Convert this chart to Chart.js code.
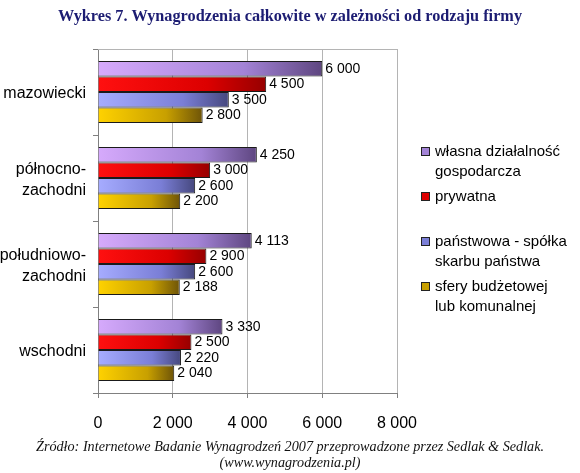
<!DOCTYPE html>
<html>
<head>
<meta charset="utf-8">
<script src="https://cdn.jsdelivr.net/npm/chart.js@4.4.0/dist/chart.umd.min.js"></script>
<style>
  html, body { margin: 0; padding: 0; background: #fff; }
  #wrap { width: 580px; height: 473px; }
</style>
</head>
<body>
<div id="wrap"><canvas id="myChart"></canvas></div>
<script>
// dane z wykresu
const regiony = ['mazowiecki', ['północno-', 'zachodni'], ['południowo-', 'zachodni'], 'wschodni'];
const nazwySerii = [
    ['własna działalność', 'gospodarcza'],
    ['prywatna'],
    ['państwowa - spółka', 'skarbu państwa'],
    ['sfery budżetowej', 'lub komunalnej']
];
const wlasna = [6000, 4250, 4113, 3330];
const prywatna = [4500, 3000, 2900, 2500];
const panstwowa = [3500, 2600, 2600, 2220];
const budzetowa = [2800, 2200, 2188, 2040];
const osX = [0, 2000, 4000, 6000, 8000];

const tytul = 'Wykres 7. Wynagrodzenia całkowite w zależności od rodzaju firmy';
const zrodlo = ['Źródło: Internetowe Badanie Wynagrodzeń 2007 przeprowadzone przez Sedlak & Sedlak.',
                '(www.wynagrodzenia.pl)'];

// kolory: [jasny, ciemny, legenda]
const kolory = [
    ['#d6aafc', '#5e4680', '#a383d6'],
    ['#ff1010', '#960000', '#dc0000'],
    ['#a6acff', '#46487e', '#7a7ed6'],
    ['#ffd200', '#6e5408', '#c8a000']
];

function formatuj(v) {
    return String(v).replace(/\B(?=(\d{3})+(?!\d))/g, ' ');
}

function gradient(i) {
    return (c) => {
        const chart = c.chart;
        const xs = chart.scales.x;
        if (!chart.chartArea || !xs || c.raw == null) return kolory[i][2];
        const x0 = xs.getPixelForValue(0);
        const x1 = xs.getPixelForValue(c.raw);
        const g = chart.ctx.createLinearGradient(x0, 0, x1, 0);
        g.addColorStop(0, kolory[i][0]);
        g.addColorStop(0.65, kolory[i][2]);
        g.addColorStop(1, kolory[i][1]);
        return g;
    };
}

// etykiety wartości przy słupkach
const etykiety = {
    id: 'etykiety',
    afterDatasetsDraw(chart) {
        const ctx = chart.ctx;
        ctx.save();
        ctx.font = '14px "Liberation Sans", Arial, sans-serif';
        ctx.fillStyle = '#000';
        ctx.textBaseline = 'middle';
        ctx.textAlign = 'left';
        chart.data.datasets.forEach((ds, i) => {
            chart.getDatasetMeta(i).data.forEach((bar, j) => {
                ctx.fillText(formatuj(ds.data[j]), bar.x + 3, bar.y);
            });
        });
        ctx.restore();
    }
};

// ramka obszaru wykresu
const ramka = {
    id: 'ramka',
    beforeDatasetsDraw(chart) {
        const a = chart.chartArea;
        const ctx = chart.ctx;
        ctx.save();
        ctx.strokeStyle = '#b4b4b4';
        ctx.lineWidth = 1;
        ctx.beginPath();
        ctx.moveTo(a.left, a.top + 0.5);
        ctx.lineTo(a.right + 0.5, a.top + 0.5);
        ctx.lineTo(a.right + 0.5, a.bottom);
        ctx.stroke();
        ctx.restore();
    }
};

// tekst rozciągnięty do zadanej szerokości (jak w oryginale)
function tekstSzeroki(ctx, t, x, y, skala) {
    ctx.save();
    ctx.translate(x, y);
    ctx.scale(skala, 1);
    ctx.fillText(t, 0, 0);
    ctx.restore();
}

// tytuł i źródło na całej szerokości
const napisy = {
    id: 'napisy',
    afterDraw(chart) {
        const ctx = chart.ctx;
        const srodek = chart.width / 2;
        ctx.save();
        ctx.textAlign = 'center';
        ctx.textBaseline = 'middle';
        ctx.fillStyle = '#1c1c72';
        ctx.font = 'bold 16px "Liberation Serif", "Times New Roman", serif';
        const s1 = 464 / ctx.measureText(tytul).width;
        tekstSzeroki(ctx, tytul, srodek, 17, s1);
        ctx.fillStyle = '#111';
        ctx.font = 'italic 14px "Liberation Serif", "Times New Roman", serif';
        const s2 = 508 / ctx.measureText(zrodlo[0]).width;
        zrodlo.forEach((t, k) => tekstSzeroki(ctx, t, srodek, 447 + k * 16, s2));
        ctx.restore();
    }
};

// legenda po prawej stronie
const legenda = {
    id: 'legenda',
    afterDraw(chart) {
        const ctx = chart.ctx;
        ctx.save();
        ctx.font = '15px "Liberation Sans", Arial, sans-serif';
        ctx.textBaseline = 'middle';
        ctx.textAlign = 'left';
        let y = 152;
        nazwySerii.forEach((linie, i) => {
            ctx.fillStyle = kolory[i][2];
            ctx.fillRect(421.5, y - 4.5, 8, 8);
            ctx.strokeStyle = '#222';
            ctx.lineWidth = 1;
            ctx.strokeRect(421.5, y - 4.5, 8, 8);
            ctx.fillStyle = '#000';
            linie.forEach((t, k) => ctx.fillText(t, 435, y + k * 20));
            y += 45;
        });
        ctx.restore();
    }
};

const ctx = document.getElementById('myChart').getContext('2d');
const serie = [wlasna, prywatna, panstwowa, budzetowa];

new Chart(ctx, {
    type: 'bar',
    data: {
        labels: regiony,
        datasets: serie.map((d, i) => ({
            label: nazwySerii[i].join(' '),
            data: d,
            backgroundColor: gradient(i),
            borderColor: '#1a1a1a',
            borderWidth: 1,
            borderSkipped: 'left',
            categoryPercentage: 0.72,
            barPercentage: 1.0
        }))
    },
    options: {
        indexAxis: 'y',
        responsive: true,
        maintainAspectRatio: false,
        animation: false,
        layout: { padding: { left: 0, right: 183, top: 49, bottom: 34 } },
        plugins: {
            legend: { display: false },
            tooltip: { enabled: false },
            title: { display: false }
        },
        scales: {
            x: {
                min: 0,
                max: 8000,
                afterBuildTicks(scale) {
                    scale.ticks = osX.map(v => ({ value: v }));
                },
                afterFit(scale) { scale.height = 46; },
                grid: { color: '#b4b4b4', tickLength: 5, tickColor: '#808080' },
                border: { color: '#808080' },
                ticks: {
                    padding: 16,
                    color: '#000',
                    font: { family: '"Liberation Sans", Arial, sans-serif', size: 16 },
                    callback: v => formatuj(v)
                }
            },
            y: {
                afterFit(scale) { scale.width = 98; },
                grid: { drawOnChartArea: false, tickLength: 5, color: '#808080', offset: true },
                border: { color: '#808080' },
                ticks: {
                    padding: 7,
                    color: '#000',
                    font: { family: '"Liberation Sans", Arial, sans-serif', size: 16, lineHeight: 1.3 },
                    labelOffset: 2
                }
            }
        }
    },
    plugins: [ramka, etykiety, legenda, napisy]
});
</script>
</body>
</html>
